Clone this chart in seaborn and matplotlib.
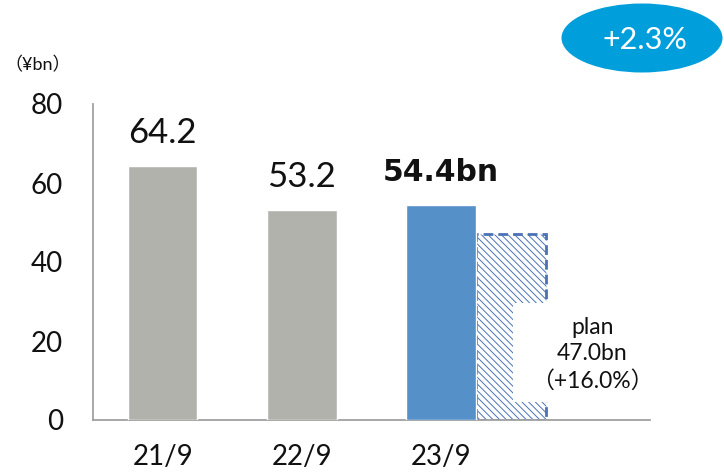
import matplotlib
matplotlib.use("Agg")
import matplotlib.pyplot as plt
from matplotlib.patches import Ellipse, Rectangle
import seaborn as sns
import pandas as pd

# Interim net income by fiscal period (¥bn)
periods = ["21/9", "22/9", "23/9"]
values = [64.2, 53.2, 54.4]
value_labels = ["64.2", "53.2", "54.4bn"]
plan_value = 47.0
plan_label = "plan\n47.0bn\n（+16.0%）"
growth_label = "+2.3%"
unit_label = "（¥bn）"
y_ticks = [0, 20, 40, 60, 80]

GRAY = "#B2B2AD"
BLUE = "#5590C9"
PLAN_EDGE = "#4A72B4"
BADGE = "#009FDC"

sns.set_style("white")
plt.rcParams["font.family"] = ["Lato", "Noto Sans CJK JP", "DejaVu Sans"]
plt.rcParams["hatch.linewidth"] = 0.7

df = pd.DataFrame({"period": periods, "value": values})

fig = plt.figure(figsize=(7.24, 4.76), dpi=100)
ax = fig.add_axes([93 / 724, 56 / 476, 557 / 724, 316 / 476])

sns.barplot(data=df, x="period", y="value", hue="period",
            palette=[GRAY, GRAY, BLUE], width=0.5, legend=False,
            saturation=1, ax=ax, zorder=3)

# Plan bar sitting next to the latest period
ax.bar([2.5], [plan_value], width=0.5, facecolor="white",
       edgecolor=PLAN_EDGE, hatch="\\" * 5, linewidth=2.0,
       linestyle=(0, (3.5, 1.8)), zorder=2)

# White label box over the plan bar
ax.add_patch(Rectangle((2.517, 4.6), 0.85, 25.0, facecolor="white",
                       edgecolor="none", zorder=4, clip_on=False))
ax.text(3.085, 16.6, plan_label, ha="center", va="center", fontsize=16.5,
        linespacing=1.32, color="#111111", zorder=5)

# Value labels above bars
for i, (v, lab) in enumerate(zip(values, value_labels)):
    bold = lab.endswith("bn")
    ax.annotate(lab, (i, v), xytext=(0, 17.5 if bold else 16.5),
                textcoords="offset points", ha="center", va="baseline",
                fontsize=21.5 if bold else 25,
                fontweight="bold" if bold else "normal",
                family=["DejaVu Sans"] if bold else None,
                color="#111111")

ax.set_xlim(-0.5, 3.5)
ax.set_ylim(0, 80)
ax.set_yticks(y_ticks)
ax.set_xlabel("")
ax.set_ylabel("")
ax.tick_params(axis="y", length=0, pad=21.5, labelsize=20, labelcolor="#111111")
ax.tick_params(axis="x", length=0, pad=17, labelsize=20, labelcolor="#111111")

for side in ("top", "right"):
    ax.spines[side].set_visible(False)
for side in ("left", "bottom"):
    ax.spines[side].set_color("#A0A0A0")
    ax.spines[side].set_linewidth(1.3)

# Unit label and growth badge
fig.text(38 / 724, 1 - 65 / 476, unit_label, ha="center", va="center",
         fontsize=13, color="#111111")
fig.patches.append(Ellipse((642 / 724, 1 - 38 / 476), 161 / 724, 69 / 476,
                           transform=fig.transFigure, facecolor=BADGE,
                           edgecolor="none"))
fig.text(645 / 724, 1 - 40 / 476, growth_label, ha="center", va="center",
         fontsize=22, color="white")

fig.savefig("out.png", dpi=100)
